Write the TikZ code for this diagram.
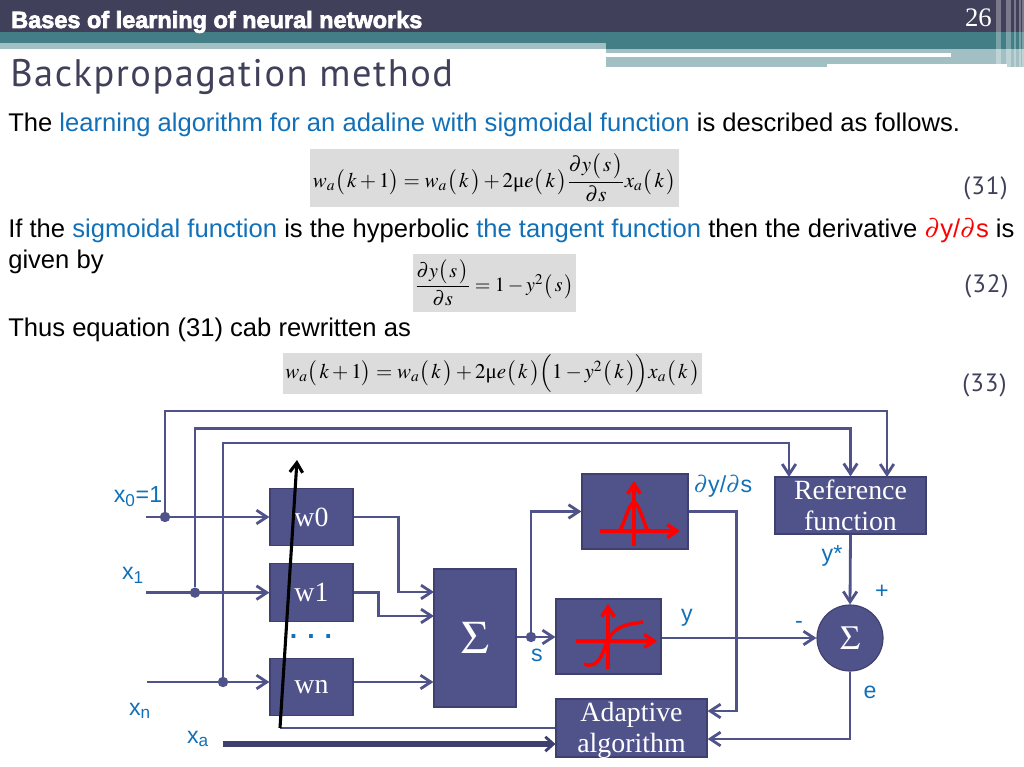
\documentclass[tikz,border=0pt]{standalone}
\usepackage{amsmath}
\usepackage{mathptmx}
\usepackage[no-math]{fontspec}
\setmainfont{Liberation Serif}
\setsansfont{Liberation Sans}
\newfontfamily\titlefont[LetterSpace=4]{PT Sans}
\newfontfamily\bandfont[FakeBold=3]{Liberation Sans Bold}
\usepackage{xcolor}
\usetikzlibrary{positioning,arrows.meta,calc}
\definecolor{bandDark}{HTML}{41405A}
\definecolor{bandTeal}{HTML}{437E86}
\definecolor{bandLight}{HTML}{A2C0C4}
\definecolor{blockFill}{HTML}{50528A}
\definecolor{blockEdge}{HTML}{3F4070}
\definecolor{labelBlue}{HTML}{1270B8}
\definecolor{eqGray}{HTML}{DCDCDC}

\begin{document}
\begin{tikzpicture}[
        x=0.025cm, y=-0.025cm,
        body/.style={anchor=base west, inner sep=0pt, font=\sffamily\fontsize{18.2}{22}\selectfont},
        eqbox/.style={fill=eqGray, inner sep=0pt, font=\rmfamily\fontsize{14.9}{18}\selectfont},
        eqno/.style={anchor=base west, inner sep=0pt, text=bandDark, font=\titlefont\fontsize{17.8}{20}\selectfont},
        block/.style={
            draw=blockEdge,
            line width=0.8pt,
            fill=blockFill,
            rectangle,
            inner sep=0pt,
            align=center,
            text=white,
            font=\rmfamily\fontsize{19.8}{22.5}\selectfont
        },
        wire/.style={line width=2pt, draw=blockFill},
        arrow/.style={wire, -{Straight Barb[length=2.6mm,width=3.4mm,line width=2pt]}},
        thickarrow/.style={line width=4pt, draw=blockEdge, -{Straight Barb[length=2mm,width=3.6mm,line width=2pt]}},
        junction/.style={circle, fill=blockFill, inner sep=0pt, minimum size=0.26cm},
        tag/.style={inner sep=0pt, text=labelBlue, font=\sffamily\fontsize{16.5}{19}\selectfont},
        plotline/.style={line width=2.5pt, draw=red},
        plotarrow/.style={plotline, -{Straight Barb[length=2.4mm,width=3.2mm,line width=2.5pt]}}
    ]
        \useasboundingbox (0,0) rectangle (1024,767);

        % Slide head
        \fill[bandDark] (0,0) rectangle (1024,32);
        \fill[bandTeal] (0,32) rectangle (1024,49);
        \fill[bandLight] (0,43) rectangle (606,49);
        \fill[bandLight] (606,49) rectangle (1024,67);
        \fill[white] (606,53) rectangle (951,57);
        \fill[white] (827,64) rectangle (1007,67);
        \foreach \sx/\sw in {996/5, 1006/5, 1014/2, 1019/2, 1022/2} {
            \fill[white, opacity=0.3] (\sx,0) rectangle ++(\sw,67);
        }
        \node[anchor=base west, inner sep=0pt, text=white, font=\bandfont\fontsize{16.7}{20}\selectfont] (band) at (11,28) {Bases of learning of neural networks};
        \node[anchor=base east, inner sep=0pt, text=white, font=\rmfamily\fontsize{19}{22}\selectfont] (pageno) at (992,27) {26};
        \node[anchor=base west, inner sep=0pt, text=bandDark, font=\titlefont\fontsize{27.3}{32}\selectfont] (title) at (10,87) {Backpropagation method};

        % Text and equations
        \node[body] (line1) at (8,131.5) {The \textcolor{labelBlue}{learning algorithm for an adaline with sigmoidal function} is described as follows.};
        \node[body] (line2) at (8,237.5) {If the \textcolor{labelBlue}{sigmoidal function} is the hyperbolic \textcolor{labelBlue}{the tangent function} then the derivative \textcolor{red}{$\partial$y/$\partial$s} is};
        \node[body] (line3) at (8,268) {given by};
        \node[body] (line4) at (8,336) {Thus equation (31) cab rewritten as};

        \node[eqbox, minimum width=9.225cm, minimum height=1.45cm] (eq1) at (494.5,178) {$w_a\bigl(\,k+1\bigr)=w_a\bigl(\,k\,\bigr)+2\mbox{μ}e\bigl(\,k\,\bigr)\dfrac{\partial y\bigl(\,s\,\bigr)}{\partial s}x_a\bigl(\,k\,\bigr)$};
        \node[eqbox, minimum width=4.075cm, minimum height=1.45cm, font=\rmfamily\fontsize{14.3}{18}\selectfont] (eq2) at (494.5,283) {$\dfrac{\partial y\bigl(\,s\,\bigr)}{\partial s}=1-y^2\bigl(\,s\,\bigr)$};
        \node[eqbox, minimum width=10.475cm, minimum height=1.025cm] (eq3) at (492.5,373.5) {$w_a\bigl(\,k+1\bigr)=w_a\bigl(\,k\,\bigr)+2\mbox{μ}e\bigl(\,k\,\bigr)\Bigl(1-y^2\bigl(\,k\,\bigr)\Bigr)x_a\bigl(\,k\,\bigr)$};

        \node[eqno] (no31) at (963,195) {(31)};
        \node[eqno] (no32) at (964,292) {(32)};
        \node[eqno] (no33) at (962,391) {(33)};

        % Blocks
        \node[block, minimum width=2.075cm, minimum height=1.425cm] (w0) at (311.5,517) {w0};
        \node[block, minimum width=2.075cm, minimum height=1.45cm, below=0.425cm of w0] (w1) {w1};
        \node[block, minimum width=2.075cm, minimum height=1.425cm, below=0.9cm of w1] (wn) {wn};
        \node[block, minimum width=2.05cm, minimum height=3.45cm, font=\rmfamily\fontsize{33}{36}\selectfont] (adder) at (475,638) {$\Sigma$};
        \node[block, minimum width=2.65cm, minimum height=1.875cm] (deriv) at (635,511.5) {};
        \node[block, minimum width=2.625cm, minimum height=1.875cm] (sigmoid) at (608.5,636.5) {};
        \node[block, minimum width=3.775cm, minimum height=1.425cm] (ref) at (850.5,505.5) {Reference\\function};
        \node[block, minimum width=3.775cm, minimum height=1.45cm] (adapt) at (631.5,728) {};
        \node[block, draw=none, fill=none, yshift=-0.06cm] (adaptname) at (adapt) {Adaptive\\algorithm};
        \node[block, circle, minimum size=1.65cm, font=\rmfamily\fontsize{24}{28}\selectfont] (errsum) at (850,638) {$\Sigma$};

        % Input points
        \node[junction] (j0) at (w0.west -| 165,0) {};
        \node[junction] (j1) at (w1.west -| 195,0) {};
        \node[junction] (jn) at (223,682) {};
        \node[junction] (js) at (531,637) {};
        \coordinate (in0) at (j0 -| 146,0);
        \coordinate (in1) at (j1 -| 146,0);
        \coordinate (inn) at (jn -| 147,0);
        \coordinate (ina) at (223,744);

        % Inputs to weights
        \draw[arrow] (in0) -- (w0.west);
        \draw[arrow] (in1) -- (w1.west);
        \draw[arrow] (inn) -- (inn -| wn.west);

        % Inputs to reference function
        \draw[arrow] (j0) -- ++(0,-106) -| (887,477);
        \draw[arrow] (j1) -- ++(0,-164) -| (ref.north);
        \draw[arrow] (jn) -- ++(0,-239) -| (789,477);

        % Weights to adder
        \draw[arrow] (w0.east) -- ++(45,0) |- (434,592);
        \draw[arrow] (w1.east) -- ++(25,0) |- (434,616);
        \draw[arrow] (inn -| wn.east) -- (inn -| adder.west);

        % Adder to activation blocks
        \draw[arrow] (adder.east |- js) -- (js -| sigmoid.west);
        \draw[arrow] (js) |- (deriv.west);

        % Right part
        \draw[arrow] (deriv.east) -- ++(48,0) |- (adapt.east |- 0,711);
        \draw[arrow] (sigmoid.east |- errsum.west) -- (errsum.west);
        \draw[arrow] (ref.south) -- (errsum.north);
        \draw[arrow] (errsum.south) |- (adapt.east |- 0,739);

        % Adaptation of the weights
        \coordinate (tune) at (280,728);
        \draw[wire] (adapt.west) -- (tune);
        \draw[line width=2.2pt, black, -{Straight Barb[length=2.4mm,width=3.2mm,line width=2.2pt]}] (tune) -- (297,460);
        \draw[thickarrow] (ina) -- (ina -| adapt.west);

        % Curves in the blocks
        \draw[plotarrow] (634,546) -- (634,481);
        \draw[plotarrow] (600,531) -- (680,531);
        \draw[plotline] (620,530) .. controls (624,525) and (628,505) .. (634,502) .. controls (640,505) and (644,525) .. (648,531);
        \draw[plotarrow] (608,669) -- (608,604);
        \draw[plotarrow] (576,641) -- (657,641);
        \draw[plotline] (584,664) .. controls (600,670) and (603,650) .. (608,640) .. controls (615,625) and (630,624) .. (643,622);

        % Labels
        \node[tag] (xzero) at (138,497) {x\textsubscript{0}=1};
        \node[tag] (xone) at (133,575) {x\textsubscript{1}};
        \node[tag] (xlast) at (140,711) {x\textsubscript{n}};
        \node[tag] (xadapt) at (198,739) {x\textsubscript{a}};
        \node[tag, font=\sffamily\bfseries\fontsize{19}{22}\selectfont] (dots) at (311,637) {. . .};
        \node[tag] (ls) at (537,655) {s};
        \node[tag] (ly) at (687,618) {y};
        \node[tag] (ldy) at (723,486) {$\partial$y/$\partial$s};
        \node[tag] (lystar) at (832,556) {y*};
        \node[tag] (lplus) at (882,592) {+};
        \node[tag] (lminus) at (799,625) {-};
        \node[tag] (le) at (870,692) {e};
\end{tikzpicture}
\end{document}
